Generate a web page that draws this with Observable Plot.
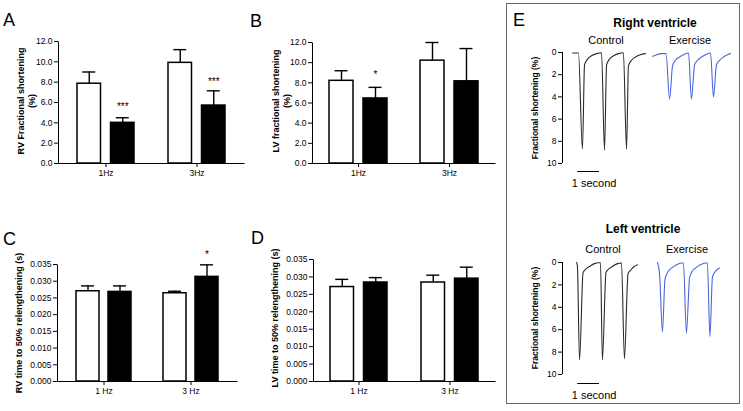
<!DOCTYPE html>
<html>
<head>
<meta charset="utf-8">
<script src="https://cdn.jsdelivr.net/npm/d3@7"></script>
<script src="https://cdn.jsdelivr.net/npm/@observablehq/plot@0.6"></script>
<style>
  html, body { margin: 0; padding: 0; background: #fff; }
  #fig { position: relative; width: 743px; height: 411px; overflow: hidden; background: #fff;
         font-family: "Liberation Sans", Arial, sans-serif; color: #000; }
  #fig svg { position: absolute; left: 0; top: 0; }
  .t { position: absolute; white-space: nowrap; transform: translate(-50%, -50%); }
  .letter { position: absolute; white-space: nowrap; font-size: 18px; transform: translate(0, -50%); }
  .ylab { position: absolute; white-space: nowrap; text-align: center; font-weight: bold; font-size: 9px;
          line-height: 11px; transform: translate(-50%, -50%) rotate(-90deg); }
  #ebox { position: absolute; left: 506px; top: 3px; width: 234px; height: 401px;
          border: 1.5px solid #666; box-sizing: border-box; }
</style>
</head>
<body>
<div id="fig">
  <div id="ebox"></div>
</div>
<script>
// ---------------- data ----------------
const conditions = ["Control", "Exercise"];
const freqAB = ["1Hz", "3Hz"];
const freqCD = ["1 Hz", "3 Hz"];
// order in each array: [1Hz Control, 1Hz Exercise, 3Hz Control, 3Hz Exercise]
const rvFsMean = [7.85, 4.0, 9.9, 5.7];
const rvFsSem  = [1.15, 0.5, 1.3, 1.45];
const lvFsMean = [8.2, 6.45, 10.2, 8.15];
const lvFsSem  = [1.0, 1.1, 1.8, 3.25];
const rvT50Mean = [0.0270, 0.0268, 0.0264, 0.0313];
const rvT50Sem  = [0.0016, 0.0018, 0.0006, 0.0036];
const lvT50Mean = [0.0271, 0.0284, 0.0284, 0.0295];
const lvT50Sem  = [0.0022, 0.0014, 0.0021, 0.0033];
const fsTicks  = [0, 2, 4, 6, 8, 10, 12];
const t50Ticks = [0, 0.005, 0.010, 0.015, 0.020, 0.025, 0.030, 0.035];
// significance markers (on Exercise bars)
const rvFsSig  = [{group: "1Hz", label: "***", y: 5.6}, {group: "3Hz", label: "***", y: 8.05}];
const lvFsSig  = [{group: "1Hz", label: "*", y: 8.8}];
const rvT50Sig = [{group: "3 Hz", label: "*", y: 0.0378}];
const lvT50Sig = [];

// E: representative traces, [time (s), fractional shortening (%)]
const rvControlTrace = [[0.48,0.05],[0.76,0.05],[0.95,8.7],[1.05,1.1],[1.19,0.6],[1.38,0.3],[1.62,0.1],[1.86,0.02],
  [2.0,8.8],[2.10,1.1],[2.24,0.6],[2.43,0.3],[2.67,0.1],[2.90,0.02],
  [3.05,8.7],[3.14,1.2],[3.29,0.7],[3.48,0.4],[3.71,0.2],[3.95,0.1]];
const rvExerciseTrace = [[4.29,0.35],[4.48,0.2],[4.71,0.1],[4.93,0.1],[5.10,4.2],[5.24,1.2],[5.38,0.7],[5.57,0.4],[5.81,0.15],[6.0,0.05],
  [6.14,4.2],[6.29,1.1],[6.43,0.7],[6.62,0.4],[6.86,0.15],[7.05,0.05],
  [7.19,4.0],[7.33,1.1],[7.48,0.7],[7.67,0.4],[7.86,0.2],[8.0,0.1]];
const lvControlTrace = [[0.67,0.0],[0.71,0.3],[0.81,8.7],[0.98,0.9],[1.10,0.6],[1.29,0.35],[1.52,0.1],[1.71,0.02],[1.81,0.02],
  [1.90,8.7],[2.07,0.9],[2.19,0.6],[2.38,0.35],[2.62,0.1],[2.81,0.05],
  [2.95,8.6],[3.12,1.0],[3.24,0.7],[3.38,0.4],[3.57,0.2]];
const lvExerciseTrace = [[4.52,0.0],[4.62,1.0],[4.76,6.2],[4.88,1.5],[5.0,0.9],[5.19,0.5],[5.43,0.2],[5.67,0.05],[5.76,0.05],
  [5.90,6.3],[6.05,1.4],[6.14,0.9],[6.33,0.5],[6.57,0.2],[6.81,0.05],[6.90,0.05],
  [7.02,6.6],[7.14,1.3],[7.24,0.9],[7.38,0.6],[7.48,0.5]];
const traceTicks = [0, 2, 4, 6, 8, 10];
const scaleBarStart = 0.72;   // s
const scaleBarSeconds = 1;    // length of the scale bar (s)
const scaleBarText = "1 second";

// ---------------- helpers ----------------
const W = 743, H = 411;
const fig = document.getElementById("fig");
const font = '"Liberation Sans", Arial, sans-serif';

function rowsOf(groups, means, sems) {
  const rows = [];
  groups.forEach((g, i) => conditions.forEach((c, j) => {
    const k = i * 2 + j;
    rows.push({group: g, cond: c, mean: means[k], top: means[k] + sems[k]});
  }));
  return rows;
}

function barPanel(o) {
  const rows = rowsOf(o.groups, o.means, o.sems);
  const ctrl = rows.filter(d => d.cond === "Control");
  const exer = rows.filter(d => d.cond === "Exercise");
  const barW = (o.bw - o.gap) / 2;
  const rightEnd = o.band1Left + o.step + o.bw + (o.band1Left - o.axisLeft);
  const off = o.bw / 2 - barW / 2;
  const capW = 13;
  const capIn = (barW - capW) / 2;
  const w = rightEnd - o.axisLeft, h = o.yBottom - o.yTop;
  return Plot.plot({
    width: W, height: H,
    marginLeft: o.axisLeft, marginRight: W - rightEnd,
    marginTop: o.yTop, marginBottom: H - o.yBottom,
    style: {background: "transparent", fontFamily: font, fontSize: "8.5px", color: "#000", overflow: "visible"},
    x: {domain: o.groups, paddingInner: 1 - o.bw / o.step, paddingOuter: (o.band1Left - o.axisLeft) / o.step},
    y: {domain: [0, o.yMax]},
    marks: [
      Plot.barY(ctrl, {x: "group", y: "mean", fill: "white", stroke: "black", strokeWidth: 1.5, insetLeft: 0, insetRight: o.bw - barW}),
      Plot.barY(exer, {x: "group", y: "mean", fill: "black", stroke: "black", strokeWidth: 1.5, insetLeft: o.bw - barW, insetRight: 0}),
      Plot.ruleX(ctrl, {x: "group", y1: "mean", y2: "top", dx: -off, stroke: "black", strokeWidth: 1.4}),
      Plot.ruleX(exer, {x: "group", y1: "mean", y2: "top", dx: off, stroke: "black", strokeWidth: 1.4}),
      Plot.tickY(ctrl, {x: "group", y: "top", insetLeft: capIn, insetRight: o.bw - barW + capIn, stroke: "black", strokeWidth: 1.4}),
      Plot.tickY(exer, {x: "group", y: "top", insetLeft: o.bw - barW + capIn, insetRight: capIn, stroke: "black", strokeWidth: 1.4}),
      Plot.text(o.sig, {x: "group", y: "y", text: "label", dx: off, fontSize: 10, fill: "#000"}),
      Plot.frame({stroke: "black", strokeWidth: 1, strokeDasharray: `0 ${w + h} ${w + h}`}),
      Plot.axisY(o.ticks, {tickSize: 4, tickPadding: 2, tickFormat: d3.format(o.fmt), label: null}),
      Plot.axisX({tickSize: 4, tickPadding: 2, label: null})
    ]
  });
}

function tracePanel(o) {
  const pxPerSec = 21;
  const xMax = 8.4;
  const ctrl = o.control.map(([t, v]) => ({t, v}));
  const exer = o.exercise.map(([t, v]) => ({t, v}));
  const bar = [{t: scaleBarStart}, {t: scaleBarStart + scaleBarSeconds}];
  const barLevel = 10 + (o.barGap / ((o.yBottom - o.yTop) / 10));
  const textLevel = 10 + (o.textGap / ((o.yBottom - o.yTop) / 10));
  return Plot.plot({
    width: W, height: H,
    marginLeft: 562, marginRight: W - 562 - xMax * pxPerSec,
    marginTop: o.yTop, marginBottom: H - o.yBottom,
    style: {background: "transparent", fontFamily: font, fontSize: "8.5px", color: "#000", overflow: "visible"},
    x: {domain: [0, xMax], axis: null},
    y: {domain: [0, 10], reverse: true},
    marks: [
      Plot.ruleX([0], {y1: 0, y2: 10, stroke: "black", strokeWidth: 1}),
      Plot.axisY(traceTicks, {tickSize: 4, tickPadding: 2, label: null}),
      Plot.line(ctrl, {x: "t", y: "v", stroke: "#2b2b2b", strokeWidth: 1.1, curve: "monotone-x"}),
      Plot.line(exer, {x: "t", y: "v", stroke: "#4a66d8", strokeWidth: 1.1, curve: "monotone-x"}),
      Plot.line(bar, {x: "t", y: () => barLevel, stroke: "black", strokeWidth: 1}),
      Plot.text([scaleBarText], {x: () => scaleBarStart + scaleBarSeconds / 2, y: () => textLevel, text: d => d, fontSize: 11, dx: 6, fill: "#000"})
    ]
  });
}

// ---------------- panels ----------------
fig.append(barPanel({groups: freqAB, means: rvFsMean, sems: rvFsSem, sig: rvFsSig, ticks: fsTicks, fmt: ".1f", yMax: 12,
  axisLeft: 58, band1Left: 77, bw: 57, step: 91, gap: 10, yTop: 41, yBottom: 163}));
fig.append(barPanel({groups: freqAB, means: lvFsMean, sems: lvFsSem, sig: lvFsSig, ticks: fsTicks, fmt: ".1f", yMax: 12,
  axisLeft: 312, band1Left: 329, bw: 58, step: 91, gap: 10, yTop: 42, yBottom: 163}));
fig.append(barPanel({groups: freqCD, means: rvT50Mean, sems: rvT50Sem, sig: rvT50Sig, ticks: t50Ticks, fmt: ".3f", yMax: 0.035,
  axisLeft: 57, band1Left: 76, bw: 55, step: 87, gap: 9, yTop: 264, yBottom: 381}));
fig.append(barPanel({groups: freqCD, means: lvT50Mean, sems: lvT50Sem, sig: lvT50Sig, ticks: t50Ticks, fmt: ".3f", yMax: 0.035,
  axisLeft: 313, band1Left: 330, bw: 57, step: 91, gap: 10, yTop: 259, yBottom: 381}));
fig.append(tracePanel({control: rvControlTrace, exercise: rvExerciseTrace, yTop: 52, yBottom: 163, barGap: 8, textGap: 20}));
fig.append(tracePanel({control: lvControlTrace, exercise: lvExerciseTrace, yTop: 262, yBottom: 374, barGap: 9, textGap: 21}));

// ---------------- text ----------------
function addText(cls, html, x, y, style = "") {
  const d = document.createElement("div");
  d.className = cls;
  d.innerHTML = html;
  d.style.left = x + "px";
  d.style.top = y + "px";
  if (style) d.style.cssText += style;
  fig.append(d);
}
addText("letter", "A", 3, 20);
addText("letter", "B", 250, 21);
addText("letter", "C", 3, 239);
addText("letter", "D", 251, 238);
addText("letter", "E", 513, 20);
addText("ylab", "RV Fractional shortening<br>(%)", 27, 101);
addText("ylab", "LV fractional shortening<br>(%)", 282, 101);
addText("ylab", "RV time to 50% relengthening (s)", 19, 323);
addText("ylab", "LV time to 50% relengthening (s)", 275, 318);
addText("ylab", "Fractional shortening (%)", 535, 108, "font-size:8.5px;");
addText("ylab", "Fractional shortening (%)", 535, 318, "font-size:8.5px;");
addText("t", "Right ventricle", 655, 23, "font-weight:bold;font-size:12px;");
addText("t", "Control", 606, 40, "font-size:11px;");
addText("t", "Exercise", 690, 40, "font-size:11px;");
addText("t", "Left ventricle", 643, 229, "font-weight:bold;font-size:12px;");
addText("t", "Control", 603, 249, "font-size:11px;");
addText("t", "Exercise", 687, 249, "font-size:11px;");
</script>
</body>
</html>
